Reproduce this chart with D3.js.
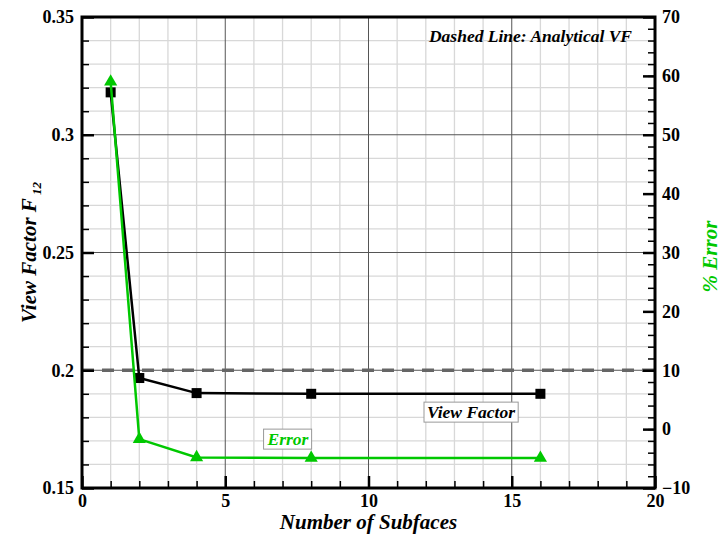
<!DOCTYPE html>
<html>
<head>
<meta charset="utf-8">
<script src="https://cdn.jsdelivr.net/npm/d3@7"></script>
<style>
  body { margin: 0; background: #fff; }
  text { font-family: "Liberation Serif", "DejaVu Serif", serif; font-weight: bold; }
</style>
</head>
<body>
<script>
// data
var subfaces = [1, 2, 4, 8, 16];
var viewFactor = [0.318, 0.1967, 0.1903, 0.190, 0.190];
var pctError = [59.0, -1.7, -4.8, -4.9, -4.9];
var analyticalVF = 0.2;
var xTicks = [0, 5, 10, 15, 20];
var leftTicks = [0.15, 0.2, 0.25, 0.3, 0.35];
var rightTicks = [-10, 0, 10, 20, 30, 40, 50, 60, 70];

var green = "#00c800";

// set the dimensions and margins of the graph
var margin = {top: 17, right: 66, bottom: 49, left: 82},
    width = 721 - margin.left - margin.right,
    height = 537 - margin.top - margin.bottom;

var x = d3.scaleLinear().domain([0, 20]).range([0, width]);
var yL = d3.scaleLinear().domain([0.15, 0.35]).range([height, 0]);
var yR = d3.scaleLinear().domain([-10, 70]).range([height, 0]);

var svg = d3.select("body").append("svg")
    .attr("width", 721).attr("height", 537)
  .append("g")
    .attr("transform", "translate(" + margin.left + "," + margin.top + ")");

// minor grid
svg.append("g").selectAll("line")
    .data(d3.range(1, 20).filter(function(d){ return d % 5 != 0; }))
    .enter().append("line")
    .attr("x1", function(d){ return x(d); }).attr("x2", function(d){ return x(d); })
    .attr("y1", 0).attr("y2", height)
    .style("stroke", "#d8d8d8").style("stroke-width", 1.3);
svg.append("g").selectAll("line")
    .data(d3.range(16, 35).filter(function(d){ return d % 5 != 0; }))
    .enter().append("line")
    .attr("y1", function(d){ return yL(d / 100); }).attr("y2", function(d){ return yL(d / 100); })
    .attr("x1", 0).attr("x2", width)
    .style("stroke", "#d8d8d8").style("stroke-width", 1.3);

// major grid
svg.append("g").selectAll("line")
    .data([5, 10, 15])
    .enter().append("line")
    .attr("x1", function(d){ return x(d); }).attr("x2", function(d){ return x(d); })
    .attr("y1", 0).attr("y2", height)
    .style("stroke", "#555").style("stroke-width", 1);
svg.append("g").selectAll("line")
    .data([0.2, 0.25, 0.3])
    .enter().append("line")
    .attr("y1", function(d){ return yL(d); }).attr("y2", function(d){ return yL(d); })
    .attr("x1", 0).attr("x2", width)
    .style("stroke", "#555").style("stroke-width", 1);

// analytical view factor (dashed)
svg.append("line")
    .attr("x1", 0).attr("x2", width)
    .attr("y1", yL(analyticalVF)).attr("y2", yL(analyticalVF))
    .style("stroke", "#666").style("stroke-width", 3.5)
    .style("stroke-dasharray", "12,8");

// axes, ticks pointing inside
function styleAxis(g) {
  g.select(".domain").remove();
  g.selectAll(".tick line").style("stroke", "#000").style("stroke-width", 2.5);
  g.selectAll(".tick text").style("font-size", "18px").style("fill", "#000")
    .style("font-family", "'Liberation Serif', serif").style("font-weight", "bold");
}

// minor ticks
svg.append("g").call(d3.axisBottom(x).tickValues(d3.range(1, 20)).tickSize(-7).tickFormat(""))
   .attr("transform", "translate(0," + height + ")").call(styleAxis)
   .selectAll(".tick line").style("stroke-width", 1.5);
svg.append("g").call(d3.axisLeft(yL).tickValues(d3.range(16, 35).map(function(d){ return d / 100; })).tickSize(-7).tickFormat(""))
   .call(styleAxis).selectAll(".tick line").style("stroke-width", 1.5);
svg.append("g").call(d3.axisRight(yR).tickValues(d3.range(-8, 70, 2)).tickSize(-7).tickFormat(""))
   .attr("transform", "translate(" + width + ",0)").call(styleAxis)
   .selectAll(".tick line").style("stroke-width", 1.5);

// major ticks
svg.append("g")
    .attr("transform", "translate(0," + height + ")")
    .call(d3.axisBottom(x).tickValues(xTicks).tickSize(-12).tickPadding(6).tickFormat(d3.format("d")))
    .call(styleAxis);
svg.append("g")
    .call(d3.axisLeft(yL).tickValues(leftTicks).tickSize(-12).tickPadding(8).tickFormat(function(d){ return d3.format("")(+d.toFixed(2)); }))
    .call(styleAxis);
svg.append("g")
    .attr("transform", "translate(" + width + ",0)")
    .call(d3.axisRight(yR).tickValues(rightTicks).tickSize(-12).tickPadding(7).tickFormat(d3.format("d")))
    .call(styleAxis);

// frame
svg.append("rect")
    .attr("width", width).attr("height", height)
    .style("fill", "none").style("stroke", "#000").style("stroke-width", 3);

// view factor series
var lineVF = d3.line()
    .x(function(d, i){ return x(subfaces[i]); })
    .y(function(d){ return yL(d); });
svg.append("path").datum(viewFactor)
    .attr("d", lineVF)
    .style("fill", "none").style("stroke", "#000").style("stroke-width", 2.5);
svg.selectAll(".sq").data(viewFactor).enter().append("rect")
    .attr("x", function(d, i){ return x(subfaces[i]) - 5; })
    .attr("y", function(d){ return yL(d) - 5; })
    .attr("width", 10).attr("height", 10)
    .style("fill", "#000");

// error series
var lineErr = d3.line()
    .x(function(d, i){ return x(subfaces[i]); })
    .y(function(d){ return yR(d); });
svg.append("path").datum(pctError)
    .attr("d", lineErr)
    .style("fill", "none").style("stroke", green).style("stroke-width", 2.5);
svg.selectAll(".tri").data(pctError).enter().append("path")
    .attr("d", d3.symbol().type(d3.symbolTriangle).size(75))
    .attr("transform", function(d, i){ return "translate(" + x(subfaces[i]) + "," + yR(d) + ")"; })
    .style("fill", green);

// text labels inside the plot
svg.append("text")
    .attr("x", 550).attr("y", 25)
    .attr("text-anchor", "end")
    .style("font-size", "17.5px").style("font-style", "italic")
    .text("Dashed Line: Analytical VF");

function boxLabel(cx, cy, txt, color) {
  var g = svg.append("g");
  var r = g.append("rect");
  var t = g.append("text")
      .attr("x", cx).attr("y", cy).attr("dy", "0.35em")
      .attr("text-anchor", "middle")
      .style("font-size", "17.5px").style("font-style", "italic")
      .style("fill", color)
      .text(txt);
  var b = t.node().getBBox();
  r.attr("x", b.x - 3).attr("y", b.y)
      .attr("width", b.width + 6).attr("height", b.height)
      .style("fill", "#fff").style("stroke", "#999").style("stroke-width", 1);
}
boxLabel(389, 395, "View Factor", "#000");
boxLabel(206, 422, "Error", green);

// axis titles
svg.append("text")
    .attr("x", width / 2).attr("y", height + 41)
    .attr("text-anchor", "middle")
    .style("font-size", "21px").style("font-style", "italic")
    .text("Number of Subfaces");

var yt = svg.append("text")
    .attr("transform", "translate(-46," + (height / 2) + ") rotate(-90)")
    .attr("text-anchor", "middle")
    .style("font-size", "21px").style("font-style", "italic");
yt.append("tspan").text("View Factor F");
yt.append("tspan").attr("dy", 5).style("font-size", "13px").text(" 12");

svg.append("text")
    .attr("transform", "translate(" + (width + 62) + "," + (height / 2 + 4) + ") rotate(-90)")
    .attr("text-anchor", "middle")
    .style("font-size", "21px").style("font-style", "italic")
    .style("fill", green)
    .text("% Error");
</script>
</body>
</html>
